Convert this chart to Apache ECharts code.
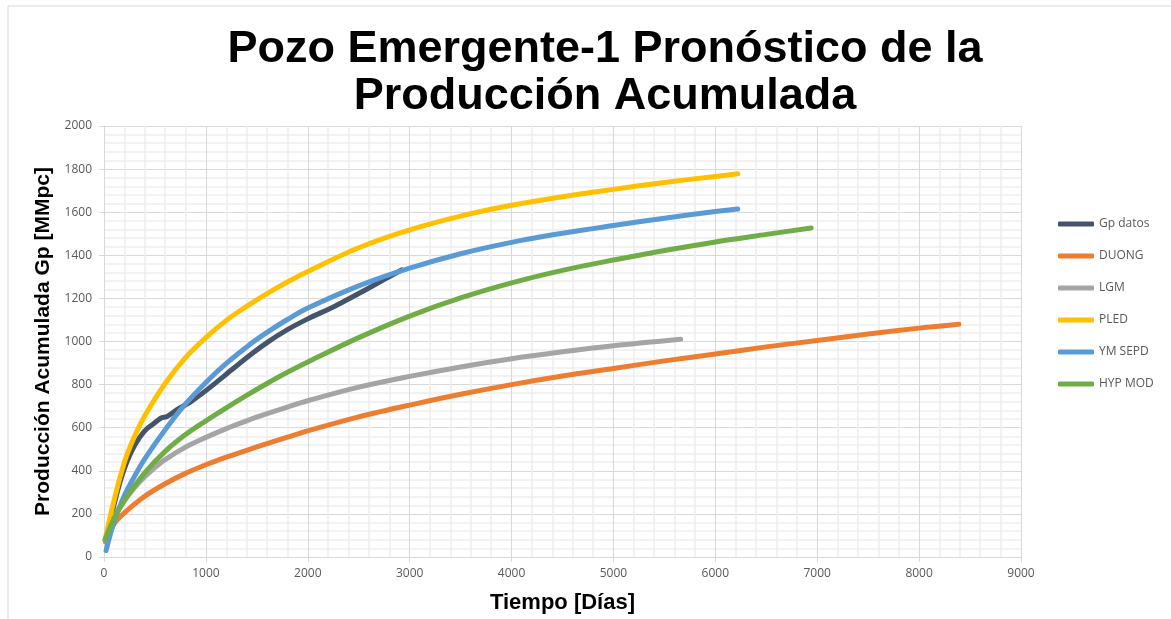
<!DOCTYPE html>
<html>
<head>
<meta charset="utf-8">
<script src="https://cdn.jsdelivr.net/npm/echarts@6/dist/echarts.min.js"></script>
<style>
  html, body { margin: 0; padding: 0; background: #fff; }
  #chart { width: 1171px; height: 619px; }
</style>
</head>
<body>
<div id="chart"></div>
<script>
// valores: [dias, Gp MMpc]
var gpDatos = [[25, 70], [60, 160], [100, 245], [150, 335], [200, 410], [270, 490], [350, 555],
  [420, 595], [490, 620], [560, 645], [620, 652], [720, 685], [850, 720], [1000, 772],
  [1200, 848], [1400, 925], [1600, 995], [1800, 1055], [2000, 1105], [2270, 1165],
  [2600, 1248], [2920, 1332]];
var duong = [[15, 70], [100, 155], [200, 205], [400, 282], [600, 340], [800, 388], [1000, 428],
  [1200, 463], [1400, 495], [1600, 526], [1800, 556], [2000, 585], [2500, 650], [3000, 705],
  [3500, 755], [4000, 800], [4500, 840], [5000, 875], [5500, 910], [6000, 942], [6500, 975],
  [7000, 1005], [7500, 1035], [8000, 1062], [8390, 1080]];
var lgm = [[10, 80], [100, 185], [200, 262], [300, 322], [400, 372], [500, 415], [600, 452],
  [800, 510], [1000, 555], [1200, 596], [1400, 632], [1600, 665], [1800, 696], [2000, 725],
  [2500, 788], [3000, 838], [3500, 882], [4000, 920], [4500, 952], [5000, 980], [5660, 1010]];
var pled = [[15, 90], [100, 265], [200, 440], [300, 560], [400, 655], [600, 805], [800, 925],
  [1000, 1018], [1200, 1098], [1400, 1163], [1600, 1222], [1800, 1276], [2000, 1325],
  [2500, 1435], [3000, 1518], [3500, 1582], [4000, 1632], [4500, 1672], [5000, 1706],
  [5500, 1738], [6000, 1766], [6220, 1778]];
var ymSepd = [[20, 30], [100, 165], [200, 285], [300, 375], [400, 455], [600, 590], [800, 710],
  [1000, 810], [1200, 898], [1400, 975], [1600, 1042], [1800, 1102], [2000, 1155],
  [2500, 1258], [3000, 1340], [3500, 1407], [4000, 1460], [4500, 1502], [5000, 1538],
  [5500, 1572], [6000, 1603], [6220, 1615]];
var hypMod = [[10, 80], [100, 180], [200, 262], [400, 390], [600, 490], [800, 568], [1000, 632],
  [1200, 692], [1400, 750], [1600, 805], [1800, 857], [2000, 905], [2500, 1018], [3000, 1118],
  [3500, 1202], [4000, 1272], [4500, 1330], [5000, 1378], [5500, 1422], [6000, 1462],
  [6500, 1497], [6940, 1527]];

var nombres = ['Gp datos', 'DUONG', 'LGM', 'PLED', 'YM SEPD', 'HYP MOD'];
var colores = ['#44546a', '#ed7d31', '#a5a5a5', '#ffc000', '#5b9bd5', '#70ad47'];
var datos = [gpDatos, duong, lgm, pled, ymSepd, hypMod];

var myChart = echarts.init(document.getElementById('chart'));

var series = nombres.map(function (n, i) {
  return {
    name: n,
    type: 'line',
    data: datos[i],
    showSymbol: false,
    smooth: i === 0 ? 0.2 : 0.35,
    lineStyle: { width: 5, color: colores[i], cap: 'round', join: 'round' },
    itemStyle: { color: colores[i] }
  };
});

var etiqueta = { fontFamily: 'Open Sans', fontSize: 12, color: '#595959', formatter: function (v) { return String(v); } };

var option = {
  animation: false,
  graphic: [{
    type: 'rect',
    shape: { x: 8, y: 6, width: 1180, height: 640 },
    style: { fill: 'none', stroke: '#d9d9d9', lineWidth: 1 }
  }],
  title: {
    text: 'Pozo Emergente-1 Pronóstico de la\nProducción Acumulada',
    left: 600,
    textAlign: 'center',
    top: 21,
    textStyle: {
      fontFamily: 'Liberation Sans',
      fontWeight: 'bold',
      fontSize: 45,
      lineHeight: 47,
      color: '#000'
    }
  },
  legend: {
    orient: 'vertical',
    left: 1053,
    top: 213,
    itemWidth: 36,
    itemHeight: 5,
    itemGap: 20,
    icon: 'roundRect',
    textStyle: { fontFamily: 'Open Sans', fontSize: 12, color: '#595959' },
    data: nombres
  },
  grid: { left: 104, right: 150, top: 126, bottom: 61 },
  xAxis: {
    type: 'value',
    min: 0,
    max: 9000,
    interval: 1000,
    name: 'Tiempo [Días]',
    nameLocation: 'middle',
    nameGap: 35,
    nameTextStyle: { fontFamily: 'Liberation Sans', fontWeight: 'bold', fontSize: 22, color: '#000' },
    axisLine: { show: true, lineStyle: { color: '#d9d9d9' } },
    axisTick: { show: true, length: 5, lineStyle: { color: '#d9d9d9' } },
    axisLabel: Object.assign({ margin: 11 }, etiqueta),
    splitLine: { show: true, lineStyle: { color: '#d9d9d9' } },
    minorTick: { show: false, splitNumber: 5 },
    minorSplitLine: { show: true, lineStyle: { color: '#eeeeee', width: 1.5 } }
  },
  yAxis: {
    type: 'value',
    min: 0,
    max: 2000,
    interval: 200,
    name: 'Producción Acumulada Gp [MMpc]',
    nameLocation: 'middle',
    nameGap: 50,
    nameTextStyle: { fontFamily: 'Liberation Sans', fontWeight: 'bold', fontSize: 21, color: '#000' },
    axisLine: { show: true, lineStyle: { color: '#d9d9d9' } },
    axisTick: { show: true, length: 5, lineStyle: { color: '#d9d9d9' } },
    axisLabel: Object.assign({ margin: 12 }, etiqueta),
    splitLine: { show: true, lineStyle: { color: '#d9d9d9' } },
    minorTick: { show: false, splitNumber: 5 },
    minorSplitLine: { show: true, lineStyle: { color: '#eeeeee', width: 1.5 } }
  },
  series: series
};

myChart.setOption(option);
</script>
</body>
</html>
